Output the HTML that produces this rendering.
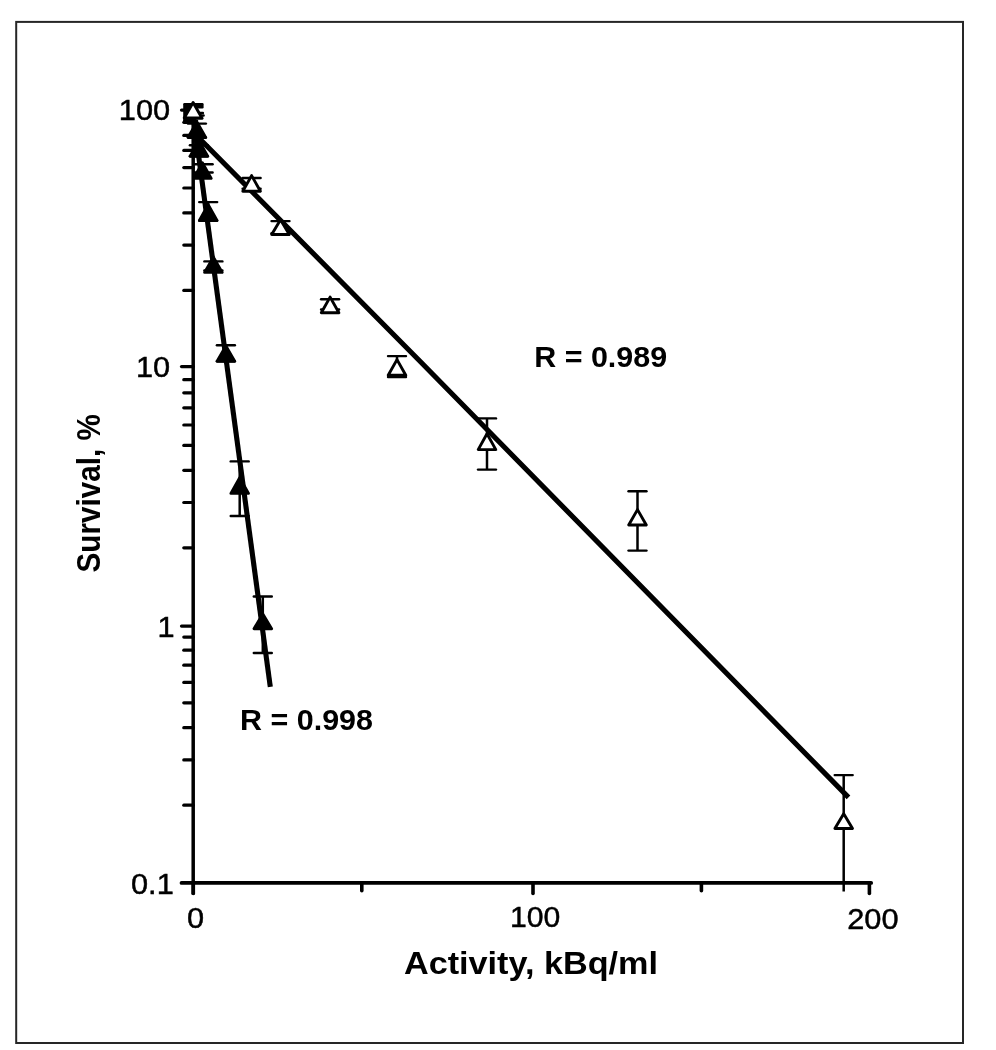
<!DOCTYPE html>
<html lang="en"><head><meta charset="utf-8"><title>Survival vs Activity</title>
<style>html,body{margin:0;padding:0;background:#fff;}body{width:996px;height:1050px;overflow:hidden;}svg{display:block;}text{font-family:"Liberation Sans",Arial,Helvetica,sans-serif;fill:#000;}</style>
</head><body>
<svg width="996" height="1050" viewBox="0 0 996 1050">
<rect x="0" y="0" width="996" height="1050" fill="#fff"/>
<rect x="16.2" y="21.9" width="946.8" height="1021.1" fill="none" stroke="#262626" stroke-width="2"/>
<g stroke="#000" stroke-width="3.5" stroke-linecap="butt" fill="none">
<line x1="193.2" y1="108.5" x2="193.2" y2="894.5"/>
<line x1="181.5" y1="882.9" x2="871.2" y2="882.9" stroke-width="3.7" stroke-linecap="round"/>
</g>
<g stroke="#000" stroke-width="3.2" stroke-linecap="round" fill="none">
<line x1="183.8" y1="805.2" x2="193.2" y2="805.2"/>
<line x1="183.8" y1="759.9" x2="193.2" y2="759.9"/>
<line x1="183.8" y1="727.7" x2="193.2" y2="727.7"/>
<line x1="183.8" y1="702.8" x2="193.2" y2="702.8"/>
<line x1="183.8" y1="682.4" x2="193.2" y2="682.4"/>
<line x1="183.8" y1="665.2" x2="193.2" y2="665.2"/>
<line x1="183.8" y1="650.2" x2="193.2" y2="650.2"/>
<line x1="183.8" y1="637.1" x2="193.2" y2="637.1"/>
<line x1="183.8" y1="547.8" x2="193.2" y2="547.8"/>
<line x1="183.8" y1="502.5" x2="193.2" y2="502.5"/>
<line x1="183.8" y1="470.3" x2="193.2" y2="470.3"/>
<line x1="183.8" y1="445.4" x2="193.2" y2="445.4"/>
<line x1="183.8" y1="425.0" x2="193.2" y2="425.0"/>
<line x1="183.8" y1="407.8" x2="193.2" y2="407.8"/>
<line x1="183.8" y1="392.8" x2="193.2" y2="392.8"/>
<line x1="183.8" y1="379.7" x2="193.2" y2="379.7"/>
<line x1="183.8" y1="290.4" x2="193.2" y2="290.4"/>
<line x1="183.8" y1="245.1" x2="193.2" y2="245.1"/>
<line x1="183.8" y1="212.9" x2="193.2" y2="212.9"/>
<line x1="183.8" y1="188.0" x2="193.2" y2="188.0"/>
<line x1="183.8" y1="167.6" x2="193.2" y2="167.6"/>
<line x1="183.8" y1="150.4" x2="193.2" y2="150.4"/>
<line x1="183.8" y1="135.4" x2="193.2" y2="135.4"/>
<line x1="183.8" y1="122.3" x2="193.2" y2="122.3"/>
<line x1="181.5" y1="110.1" x2="193.2" y2="110.1"/>
<line x1="181.5" y1="366.6" x2="193.2" y2="366.6"/>
<line x1="181.5" y1="626.1" x2="193.2" y2="626.1"/>
</g>
<g stroke="#000" stroke-width="3.6" stroke-linecap="round" fill="none">
<line x1="193.3" y1="882.9" x2="193.3" y2="893.4"/>
<line x1="361.8" y1="882.9" x2="361.8" y2="890.8"/>
<line x1="533.0" y1="882.9" x2="533.0" y2="893.4"/>
<line x1="701.4" y1="882.9" x2="701.4" y2="890.8"/>
<line x1="869.4" y1="882.9" x2="869.4" y2="893.4"/>
</g>
<g stroke="#000" stroke-width="5.1" stroke-linecap="butt" fill="none">
<polyline points="193.2,132.2 420,361.3 848.5,797.4" stroke-linejoin="round"/>
<line x1="193.5" y1="117.8" x2="270.3" y2="686.9"/>
</g>
<g stroke="#000" fill="none">
<rect x="183.2" y="103.1" width="10" height="18.9" rx="1.2" fill="#000" stroke="none"/>
<rect x="193" y="103.1" width="10.6" height="5.3" rx="1.2" fill="#000" stroke="none"/>
<line x1="196" y1="112.9" x2="202.9" y2="112.9" stroke-width="2.4" stroke-linecap="round"/>
<line x1="198" y1="115.5" x2="203.6" y2="115.5" stroke-width="2.4" stroke-linecap="round"/>
<line x1="193" y1="118.4" x2="202.2" y2="118.4" stroke-width="2.4" stroke-linecap="round"/>
<line x1="184.4" y1="120.8" x2="197" y2="120.8" stroke-width="2.4" stroke-linecap="round"/>
<line x1="196.9" y1="123.6" x2="196.9" y2="137.4" stroke-width="2.5"/><line x1="187.9" y1="123.6" x2="205.9" y2="123.6" stroke-width="2.4" stroke-linecap="round"/><line x1="187.9" y1="137.4" x2="205.9" y2="137.4" stroke-width="2.4" stroke-linecap="round"/>
<line x1="198.9" y1="145.3" x2="198.9" y2="156.2" stroke-width="2.5"/><line x1="189.9" y1="145.3" x2="207.9" y2="145.3" stroke-width="2.4" stroke-linecap="round"/><line x1="189.9" y1="156.2" x2="207.9" y2="156.2" stroke-width="2.4" stroke-linecap="round"/>
<line x1="202.4" y1="164.2" x2="202.4" y2="172.5" stroke-width="2.5"/><line x1="194.5" y1="164.2" x2="212.6" y2="164.2" stroke-width="2.4" stroke-linecap="round"/><line x1="194.5" y1="172.5" x2="212.6" y2="172.5" stroke-width="2.4" stroke-linecap="round"/>
<line x1="208.2" y1="202.1" x2="208.2" y2="220.8" stroke-width="2.5"/><line x1="199.2" y1="202.1" x2="217.2" y2="202.1" stroke-width="2.4" stroke-linecap="round"/><line x1="199.2" y1="220.8" x2="217.2" y2="220.8" stroke-width="2.4" stroke-linecap="round"/>
<line x1="213.4" y1="261.4" x2="213.4" y2="270.5" stroke-width="2.5"/><line x1="204.4" y1="261.4" x2="222.4" y2="261.4" stroke-width="2.4" stroke-linecap="round"/><line x1="204.4" y1="270.5" x2="222.4" y2="270.5" stroke-width="2.4" stroke-linecap="round"/>
<line x1="225.9" y1="345.2" x2="225.9" y2="361.3" stroke-width="2.5"/><line x1="216.9" y1="345.2" x2="234.9" y2="345.2" stroke-width="2.4" stroke-linecap="round"/><line x1="216.9" y1="361.3" x2="234.9" y2="361.3" stroke-width="2.4" stroke-linecap="round"/>
<line x1="239.7" y1="461.4" x2="239.7" y2="516.0" stroke-width="2.5"/><line x1="230.7" y1="461.4" x2="248.7" y2="461.4" stroke-width="2.4" stroke-linecap="round"/><line x1="230.7" y1="516.0" x2="248.7" y2="516.0" stroke-width="2.4" stroke-linecap="round"/>
<line x1="262.8" y1="596.5" x2="262.8" y2="653.0" stroke-width="2.5"/><line x1="253.8" y1="596.5" x2="271.8" y2="596.5" stroke-width="2.4" stroke-linecap="round"/><line x1="253.8" y1="653.0" x2="271.8" y2="653.0" stroke-width="2.4" stroke-linecap="round"/>
<line x1="251.6" y1="178.0" x2="251.6" y2="188.7" stroke-width="2.5"/><line x1="242.6" y1="178.0" x2="260.6" y2="178.0" stroke-width="2.4" stroke-linecap="round"/><line x1="242.6" y1="188.7" x2="260.6" y2="188.7" stroke-width="2.4" stroke-linecap="round"/>
<line x1="280.5" y1="221.1" x2="280.5" y2="233.2" stroke-width="2.5"/><line x1="271.5" y1="221.1" x2="289.5" y2="221.1" stroke-width="2.4" stroke-linecap="round"/><line x1="271.5" y1="233.2" x2="289.5" y2="233.2" stroke-width="2.4" stroke-linecap="round"/>
<line x1="330.1" y1="299.3" x2="330.1" y2="309.5" stroke-width="2.5"/><line x1="321.1" y1="299.3" x2="339.1" y2="299.3" stroke-width="2.4" stroke-linecap="round"/><line x1="321.1" y1="309.5" x2="339.1" y2="309.5" stroke-width="2.4" stroke-linecap="round"/>
<line x1="397.0" y1="356.1" x2="397.0" y2="377.0" stroke-width="2.5"/><line x1="388.0" y1="356.1" x2="406.0" y2="356.1" stroke-width="2.4" stroke-linecap="round"/><line x1="388.0" y1="377.0" x2="406.0" y2="377.0" stroke-width="2.4" stroke-linecap="round"/>
<line x1="487.0" y1="418.4" x2="487.0" y2="469.6" stroke-width="2.5"/><line x1="478.0" y1="418.4" x2="496.0" y2="418.4" stroke-width="2.4" stroke-linecap="round"/><line x1="478.0" y1="469.6" x2="496.0" y2="469.6" stroke-width="2.4" stroke-linecap="round"/>
<line x1="637.5" y1="491.3" x2="637.5" y2="550.6" stroke-width="2.5"/><line x1="628.5" y1="491.3" x2="646.5" y2="491.3" stroke-width="2.4" stroke-linecap="round"/><line x1="628.5" y1="550.6" x2="646.5" y2="550.6" stroke-width="2.4" stroke-linecap="round"/>
<line x1="843.7" y1="775.1" x2="843.7" y2="891.5" stroke-width="2.5"/><line x1="834.7" y1="775.1" x2="852.7" y2="775.1" stroke-width="2.4" stroke-linecap="round"/>
</g>
<g>
<path d="M196.9 122.0 L205.7 137.5 L188.1 137.5 Z" fill="#000" stroke="#000" stroke-width="2.9" stroke-linejoin="round"/>
<path d="M198.9 140.8 L207.7 156.2 L190.1 156.2 Z" fill="#000" stroke="#000" stroke-width="2.9" stroke-linejoin="round"/>
<path d="M202.4 162.8 L211.2 178.4 L193.6 178.4 Z" fill="#000" stroke="#000" stroke-width="2.9" stroke-linejoin="round"/>
<path d="M208.2 204.8 L217.0 220.4 L199.4 220.4 Z" fill="#000" stroke="#000" stroke-width="2.9" stroke-linejoin="round"/>
<path d="M213.4 257.1 L222.2 272.4 L204.6 272.4 Z" fill="#000" stroke="#000" stroke-width="2.9" stroke-linejoin="round"/>
<path d="M225.9 345.9 L234.7 361.2 L217.1 361.2 Z" fill="#000" stroke="#000" stroke-width="2.9" stroke-linejoin="round"/>
<path d="M239.7 477.8 L248.5 493.4 L230.9 493.4 Z" fill="#000" stroke="#000" stroke-width="2.9" stroke-linejoin="round"/>
<path d="M262.8 614.0 L271.6 628.8 L254.0 628.8 Z" fill="#000" stroke="#000" stroke-width="2.9" stroke-linejoin="round"/>
<path d="M251.6 175.6 L260.4 191.2 L242.8 191.2 Z" fill="#fff" stroke="#000" stroke-width="2.9" stroke-linejoin="round"/>
<path d="M280.5 219.8 L289.3 234.5 L271.7 234.5 Z" fill="#fff" stroke="#000" stroke-width="2.9" stroke-linejoin="round"/>
<path d="M330.1 297.1 L338.9 312.7 L321.3 312.7 Z" fill="#fff" stroke="#000" stroke-width="2.9" stroke-linejoin="round"/>
<path d="M397.0 359.6 L405.8 375.2 L388.2 375.2 Z" fill="#fff" stroke="#000" stroke-width="2.9" stroke-linejoin="round"/>
<path d="M487.0 433.8 L495.8 449.6 L478.2 449.6 Z" fill="#fff" stroke="#000" stroke-width="2.9" stroke-linejoin="round"/>
<path d="M637.5 509.6 L646.3 525.0 L628.7 525.0 Z" fill="#fff" stroke="#000" stroke-width="2.9" stroke-linejoin="round"/>
<path d="M843.7 813.8 L852.5 828.5 L834.9 828.5 Z" fill="#fff" stroke="#000" stroke-width="2.9" stroke-linejoin="round"/>
<path d="M193.1 102.5 L201.9 118.0 L184.2 118.0 Z" fill="#fff" stroke="#000" stroke-width="2.9" stroke-linejoin="round"/>
</g>
<text x="118.8" y="120.4" font-size="29" text-anchor="start" stroke="#000" stroke-width="0.45" textLength="51.300000000000004" lengthAdjust="spacingAndGlyphs">100</text>
<text x="136" y="376.6" font-size="29" text-anchor="start" stroke="#000" stroke-width="0.45" textLength="34.2" lengthAdjust="spacingAndGlyphs">10</text>
<text x="157.6" y="637.4" font-size="29" text-anchor="start" stroke="#000" stroke-width="0.45" textLength="17.1" lengthAdjust="spacingAndGlyphs">1</text>
<text x="131" y="894.3" font-size="29" text-anchor="start" stroke="#000" stroke-width="0.45" textLength="42.75" lengthAdjust="spacingAndGlyphs">0.1</text>
<text x="187" y="928" font-size="29" text-anchor="start" stroke="#000" stroke-width="0.45" textLength="17.1" lengthAdjust="spacingAndGlyphs">0</text>
<text x="510" y="927.2" font-size="29" text-anchor="start" stroke="#000" stroke-width="0.45" textLength="50.3" lengthAdjust="spacingAndGlyphs">100</text>
<text x="847.2" y="929" font-size="29" text-anchor="start" stroke="#000" stroke-width="0.45" textLength="51.300000000000004" lengthAdjust="spacingAndGlyphs">200</text>
<text x="534.2" y="367.3" font-size="28.6" text-anchor="start" font-weight="bold" textLength="133" lengthAdjust="spacingAndGlyphs">R = 0.989</text>
<text x="240" y="729.6" font-size="28.6" text-anchor="start" font-weight="bold" textLength="133" lengthAdjust="spacingAndGlyphs">R = 0.998</text>
<text x="404" y="974.1" font-size="31" text-anchor="start" font-weight="bold" textLength="254" lengthAdjust="spacingAndGlyphs">Activity, kBq/ml</text>
<text transform="translate(99.8 572.5) rotate(-90) scale(1 1.108)" x="0" y="0" font-size="29.7" font-weight="bold">Survival, %</text>
</svg></body></html>
